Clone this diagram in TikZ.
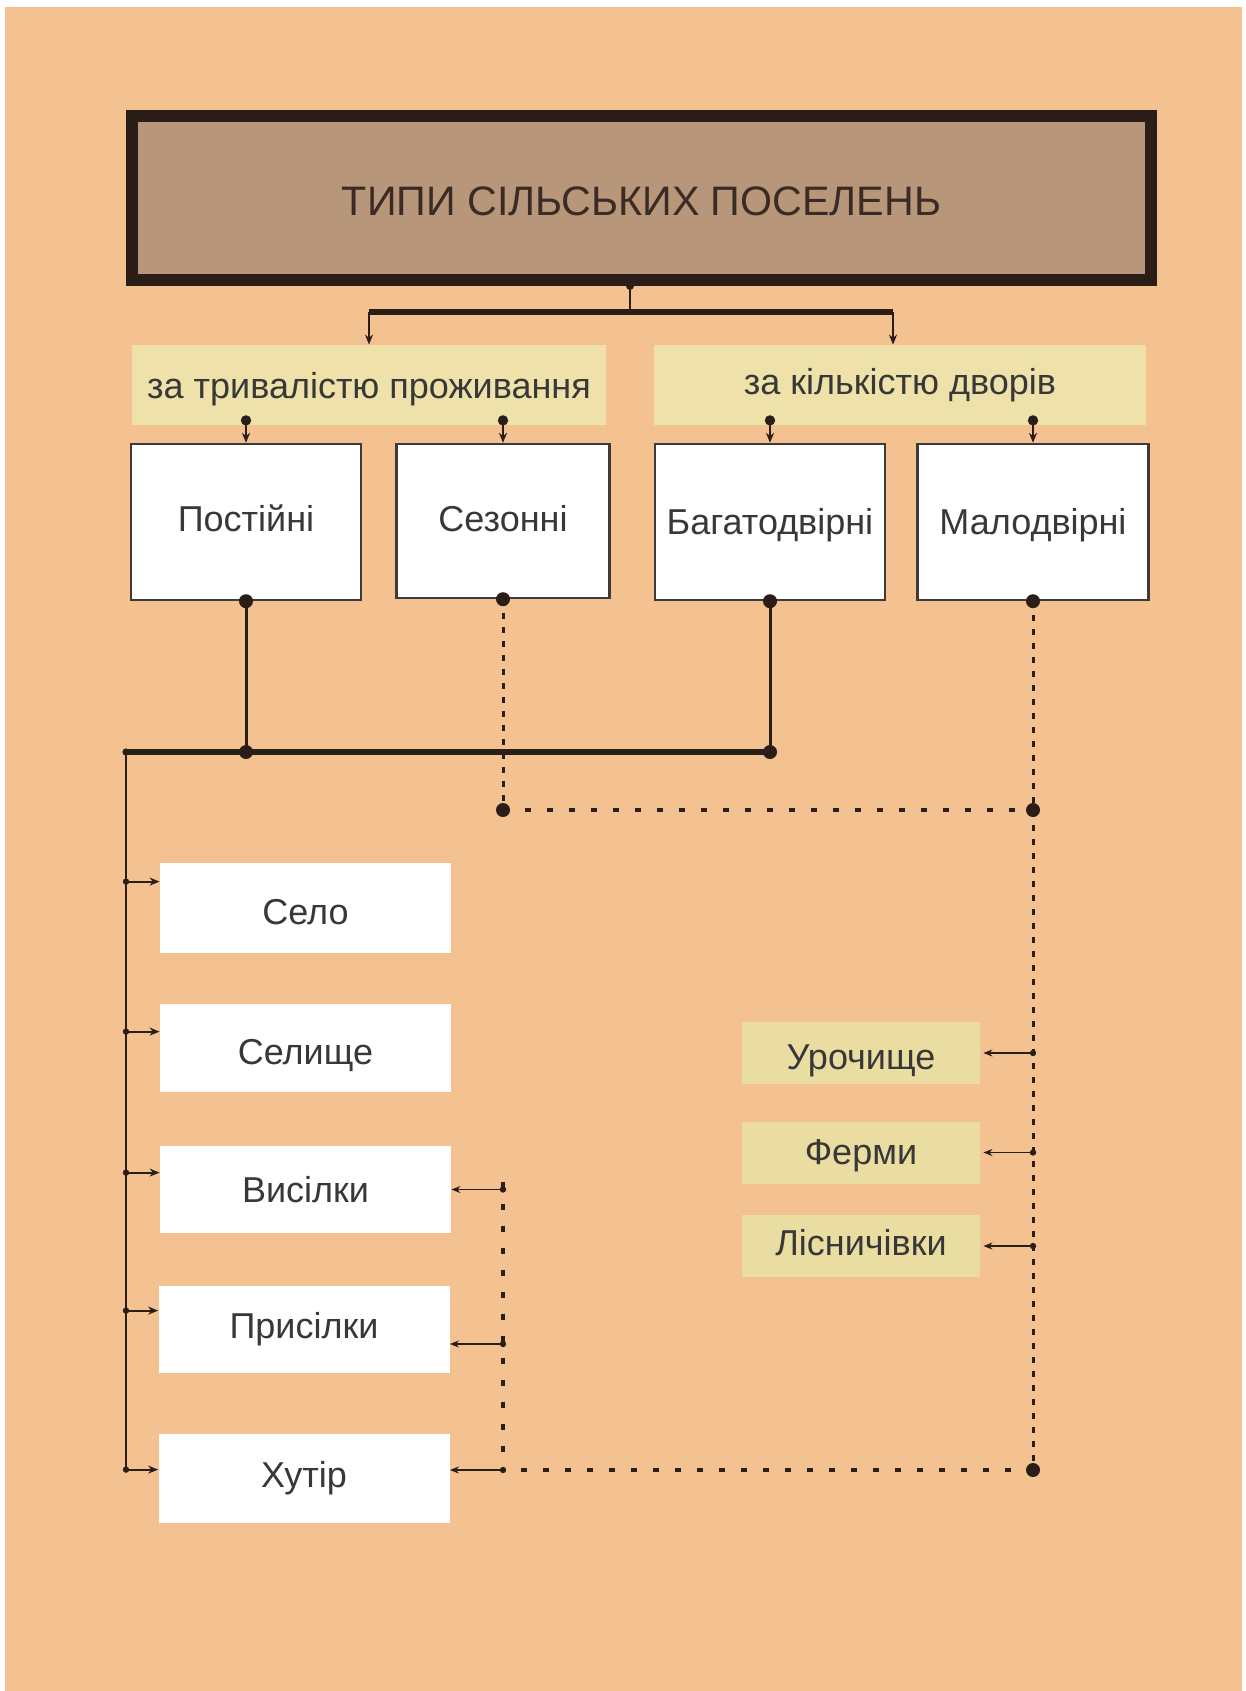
\documentclass[tikz,border=0pt]{standalone}
\usepackage{fontspec}
\setmainfont{Liberation Sans}
\usetikzlibrary{arrows.meta,calc}
\definecolor{bgc}{HTML}{F4C291}
\definecolor{titlec}{HTML}{B8967A}
\definecolor{titletxt}{HTML}{3A2C24}
\definecolor{catc}{HTML}{EEE2AA}
\definecolor{rightc}{HTML}{EADDA2}
\definecolor{linec}{HTML}{2B1E19}
\definecolor{txtc}{HTML}{383838}
\definecolor{bordc}{HTML}{3E3A38}
\newcommand\rb[2]{\raisebox{#1}[\height][\depth]{#2}}
\begin{document}
\begin{tikzpicture}[x=0.5pt,y=-0.5pt,
  nbase/.style={inner sep=0pt, text=txtc, font=\fontsize{18pt}{21pt}\selectfont},
  titlebox/.style={nbase, draw=linec, line width=6pt, fill=titlec, text=titletxt,
     font=\fontsize{20.6pt}{24pt}\selectfont, minimum width=509.5pt, minimum height=82pt},
  catbox/.style={nbase, fill=catc, minimum height=40pt},
  typebox/.style={nbase, fill=white, draw=bordc, line width=1.2pt, minimum height=78pt},
  leftbox/.style={nbase, fill=white, minimum width=145.5pt},
  rightbox/.style={nbase, fill=rightc, minimum width=119pt, minimum height=31pt},
  thinln/.style={draw=linec, line width=1pt},
  arr/.style={draw=linec, line width=1pt, -{Stealth[length=5pt,width=4pt]}},
  thinarr/.style={draw=linec, line width=0.8pt, -{Stealth[length=4.5pt,width=3.5pt]}},
  barln/.style={draw=linec, line width=2.6pt},
  barlnb/.style={draw=linec, line width=3pt},
  stemln/.style={draw=linec, line width=1.5pt},
  trunkln/.style={draw=linec, line width=1.3pt},
  dashln/.style={draw=linec, line width=1.5pt, dash pattern=on 3pt off 4pt},
  dotln/.style={draw=linec, line width=2pt, dash pattern=on 3pt off 8pt},
]
\useasboundingbox (0,0) rectangle (1246,1691);
\fill[white] (0,0) rectangle (1246,1691);
\fill[bgc] (5,7) rectangle (1242,1691);

% nodes
\node[titlebox] (title) at (641.5,198) {\rb{-1.6pt}{ТИПИ СІЛЬСЬКИХ ПОСЕЛЕНЬ}};
\node[catbox, minimum width=237pt] (catL) at (369,385) {\rb{-2pt}{за тривалістю проживання}};
\node[catbox, minimum width=246pt] (catR) at (900,385) {за кількістю дворів};

\node[typebox, minimum width=115pt] (post) at (246,522) {\rb{1.6pt}{Постійні}};
\node[typebox, minimum width=106.5pt, minimum height=77pt] (sez) at (503,521) {\rb{1pt}{Сезонні}};
\node[typebox, minimum width=115pt] (bag) at (770,522) {\rb{-1.6pt}{Багатодвірні}};
\node[typebox, minimum width=115.5pt] (mal) at (1033,522) {\rb{-1.6pt}{Малодвірні}};

\node[leftbox, minimum height=45pt] (selo) at (305.5,908) {\rb{-2pt}{Село}};
\node[leftbox, minimum height=44pt] (selysche) at (305.5,1048) {\rb{-3.6pt}{Селище}};
\node[leftbox, minimum height=43.5pt] (vysilky) at (305.5,1189.5) {Висілки};
\node[leftbox, minimum height=43.5pt] (prysilky) at (304,1329.5) {Присілки};
\node[leftbox, minimum height=44.5pt] (khutir) at (304,1478.5) {Хутір};

\node[rightbox] (uroch) at (861,1053) {\rb{-4pt}{Урочище}};
\node[rightbox] (fermy) at (861,1152.5) {\rb{-1.5pt}{Ферми}};
\node[rightbox] (lisn) at (861,1246) {\rb{1.5pt}{Лісничівки}};

% title to categories
\coordinate (tj) at ([xshift=-5.75pt]title.south);
\coordinate (bj) at ([yshift=-13pt]tj);
\coordinate (bl) at (catL.north |- bj);
\coordinate (br) at ([xshift=-3.5pt]catR.north |- bj);
\draw[thinln] (tj) -- (bj);
\fill[linec] (tj) circle (2pt);
\draw[barln] (bl) -- (br);
\draw[arr] (bl) -- (catL.north);
\draw[arr] (br) -- (br |- catR.north);

% categories to types
\foreach \b/\c in {post/catL, sez/catL, bag/catR, mal/catR}{
  \coordinate (s) at ($(\b.north |- \c.south)+(0,-5)$);
  \draw[arr] (s) -- (\b.north);
  \fill[linec] (s) circle (2.6pt);
}

% solid connection to left column
\coordinate (tk0) at (126,752);
\coordinate (pj) at (post.south |- tk0);
\coordinate (bj2) at (bag.south |- tk0);
\draw[stemln] (post.south) -- (pj);
\draw[stemln] (bag.south) -- (bj2);
\draw[barlnb] (tk0) -- (bj2);

\coordinate (aSelo) at ([yshift=-9.5pt]selo.north west);
\coordinate (aSel2) at ([yshift=-14pt]selysche.north west);
\coordinate (aVys) at ([yshift=-13.5pt]vysilky.north west);
\coordinate (aPrys) at ([yshift=-12.5pt]prysilky.north west);
\coordinate (aKh) at ([yshift=-18pt]khutir.north west);
\draw[trunkln] (tk0) -- (tk0 |- aKh);
\foreach \a in {aSelo,aSel2,aVys,aPrys,aKh}{
  \draw[arr] (tk0 |- \a) -- (\a);
  \fill[linec] (tk0 |- \a) circle (1.6pt);
}
\fill[linec] (tk0) circle (1.8pt);

% dashed / dotted connections
\coordinate (jrow) at (0,810);
\coordinate (sezJ) at (sez.south |- jrow);
\coordinate (malJ) at (mal.south |- jrow);
\coordinate (rVys) at (vysilky.east);
\coordinate (rPrys) at ([yshift=-7.25pt]prysilky.east);
\coordinate (rKh) at ([yshift=4.25pt]khutir.east);
\coordinate (malEnd) at (mal.south |- rKh);
\coordinate (sezEnd) at (sez.south |- rKh);

\draw[dashln] (sez.south) -- (sezJ);
\draw[dotln] (sezJ) -- (malJ);
\draw[dashln] (mal.south) -- (malEnd);
\draw[dotln] (malEnd) -- (sezEnd);
\draw[dotln] ($(sez.south |- rVys)+(0,-8)$) -- (sezEnd);

\foreach \r in {rVys,rPrys,rKh}{
  \draw[thinarr] (sez.south |- \r) -- (\r);
  \fill[linec] (sez.south |- \r) circle (1.6pt);
}
\foreach \r in {uroch,fermy,lisn}{
  \draw[thinarr] (mal.south |- \r.east) -- ([xshift=1.5pt]\r.east);
  \fill[linec] (mal.south |- \r.east) circle (1.6pt);
}

% big dots
\foreach \d in {post.south, sez.south, bag.south, mal.south, pj, bj2, sezJ, malJ, malEnd}{
  \fill[linec] (\d) circle (3.5pt);
}
\end{tikzpicture}
\end{document}
